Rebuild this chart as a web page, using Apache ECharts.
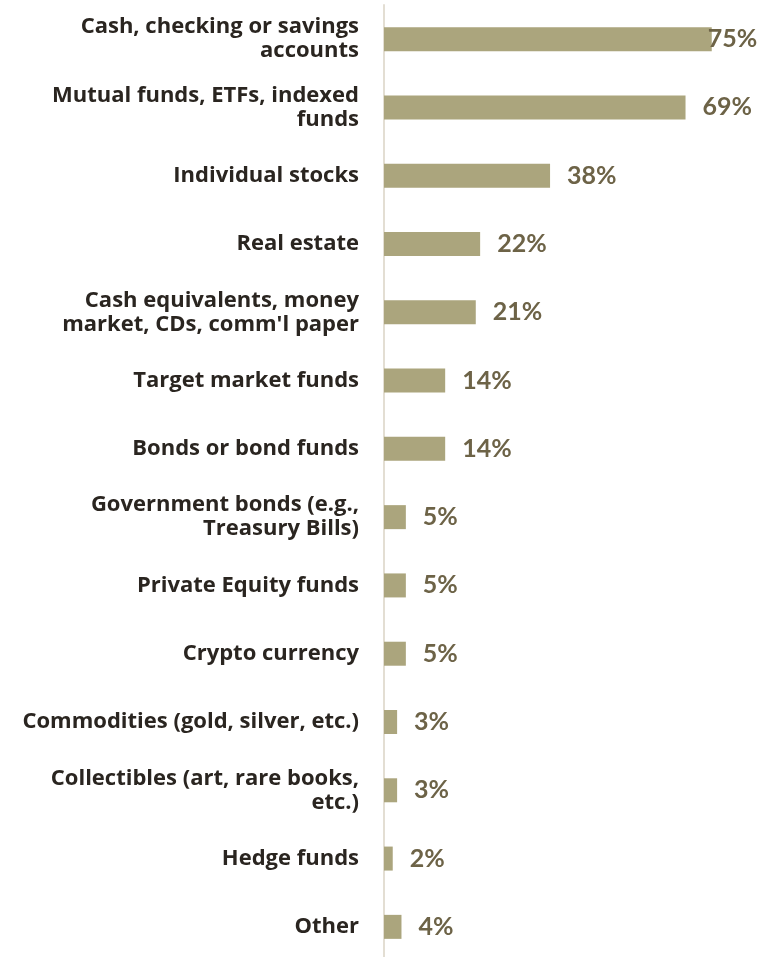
<!DOCTYPE html>
<html>
<head>
<meta charset="utf-8">
<script src="https://cdn.jsdelivr.net/npm/echarts@6/dist/echarts.min.js"></script>
<style>
  html, body { margin: 0; padding: 0; background: #ffffff; }
  #chart { width: 761px; height: 957px; }
</style>
</head>
<body>
<div id="chart"></div>
<script>
// Asset types held, share of respondents (%)
const categories = [
  'Cash, checking or savings\naccounts',
  'Mutual funds, ETFs, indexed\nfunds',
  'Individual stocks',
  'Real estate',
  'Cash equivalents, money\nmarket, CDs, comm\'l paper',
  'Target market funds',
  'Bonds or bond funds',
  'Government bonds (e.g.,\nTreasury Bills)',
  'Private Equity funds',
  'Crypto currency',
  'Commodities (gold, silver, etc.)',
  'Collectibles (art, rare books,\netc.)',
  'Hedge funds',
  'Other'
];
const values = [75, 69, 38, 22, 21, 14, 14, 5, 5, 5, 3, 3, 2, 4];

const BAR = '#aba57d';
const VALUE_TEXT = '#6d6347';
const CAT_TEXT = '#2a2520';

const seriesData = values.map((v, i) => {
  const item = { value: v };
  // the longest bar's label sits tucked against its end
  if (i === 0) item.label = { distance: -4 };
  return item;
});

const chart = echarts.init(document.getElementById('chart'), null, { renderer: 'canvas' });
chart.setOption({
  animation: false,
  backgroundColor: '#ffffff',
  grid: { left: 384, top: 5, width: 437, height: 956, containLabel: false, outerBoundsMode: 'none' },
  xAxis: {
    type: 'value', min: 0, max: 100, show: false
  },
  yAxis: {
    type: 'category',
    data: categories,
    inverse: true,
    axisLine: { show: true, lineStyle: { color: '#e3ded3', width: 2 } },
    axisTick: { show: false },
    axisLabel: {
      margin: 25,
      fontFamily: '"Open Sans", sans-serif',
      fontWeight: 'bold',
      fontSize: 22,
      lineHeight: 24,
      color: CAT_TEXT,
      align: 'right'
    }
  },
  series: [{
    type: 'bar',
    data: seriesData,
    barWidth: 24,
    itemStyle: { color: BAR },
    label: {
      show: true,
      position: 'right',
      distance: 17,
      formatter: '{c}%',
      fontFamily: 'Lato, sans-serif',
      fontWeight: 'bold',
      fontSize: 25,
      color: VALUE_TEXT
    }
  }]
});
</script>
</body>
</html>
